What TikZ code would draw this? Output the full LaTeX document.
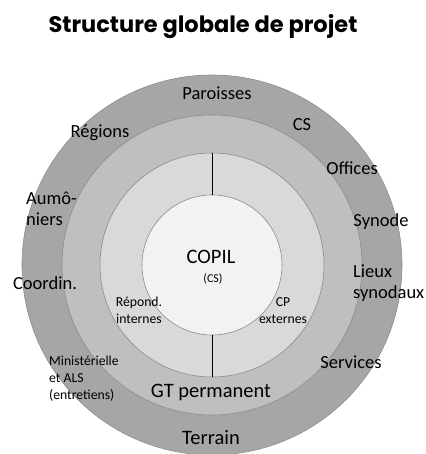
\documentclass[tikz,border=0pt]{standalone}
\usepackage{fontspec}
\setmainfont{Carlito}
\newfontfamily\titlefont{Poppins}
\definecolor{ringA}{HTML}{A6A6A6}
\definecolor{ringB}{HTML}{BFBFBF}
\definecolor{ringC}{HTML}{D9D9D9}
\definecolor{ringD}{HTML}{F2F2F2}

\begin{document}
\begin{tikzpicture}[
  x=1pt, y=-1pt,
  ring/.style={circle, draw=black!45, line width=0.6pt, inner sep=0pt, outer sep=0pt},
  split/.style={draw=black, line width=0.9pt},
  lbl/.style={font=\fontsize{18.5}{21}\selectfont, inner sep=0pt, align=left},
  big/.style={font=\fontsize{20.5}{24}\selectfont, inner sep=0pt},
  small/.style={font=\fontsize{13.7}{17}\selectfont, inner sep=0pt, align=center},
  heading/.style={font=\titlefont\bfseries\fontsize{22.5}{26}\selectfont, inner sep=0pt}
]
  \useasboundingbox (0,0) rectangle (425,454);

  % --- Anneaux concentriques ---
  \node[ring, fill=ringA, minimum size=380pt] (terrain) at (212,265) {};
  \node[ring, fill=ringB, minimum size=300pt] (gt) at (212,265) {};
  \node[ring, fill=ringC, minimum size=224pt] (pilotage) at (212,265) {};
  \node[ring, fill=ringD, minimum size=140pt] (copil) at (212,265) {};

  % --- Séparations internes / externes ---
  \draw[split] (copil.north) -- (pilotage.north);
  \draw[split] (copil.south) -- (pilotage.south);

  % --- Titre ---
  \node[heading] (titre) at (203,27) {Structure globale de projet};

  % --- Anneau extérieur ---
  \node[lbl] (paroisses) at (217,93) {Paroisses};
  \node[lbl] (regions) at (100,133) {Régions};
  \node[lbl] (cs) at (302,125) {CS};
  \node[lbl] (offices) at (352,168) {Offices};
  \node[lbl, anchor=west] (aumoniers) at (26,209) {Aumô-\\niers};
  \node[lbl] (synode) at (381,222) {Synode};
  \node[lbl, anchor=west] (lieux) at (353,283) {Lieux\\synodaux};
  \node[lbl] (coordin) at (45,283) {Coordin.};
  \node[lbl] (services) at (351,362) {Services};
  \node[small, align=left, anchor=west] (ministerielle) at (49,379) {Ministérielle\\et ALS\\(entretiens)};
  \node[big] (terrainlbl) at (211,438) {Terrain};

  % --- Anneau GT ---
  \node[big] (gtlbl) at (211,392) {GT permanent};

  % --- Anneau intérieur ---
  \node[small] (internes) at (139,310) {Répond.\\internes};
  \node[small] (externes) at (283,311) {CP\\externes};

  % --- Centre ---
  \node[big] (copillbl) at (211,257) {COPIL};
  \node[font=\fontsize{12}{14}\selectfont, inner sep=0pt] (copilcs) at (213,279) {(CS)};
\end{tikzpicture}
\end{document}
